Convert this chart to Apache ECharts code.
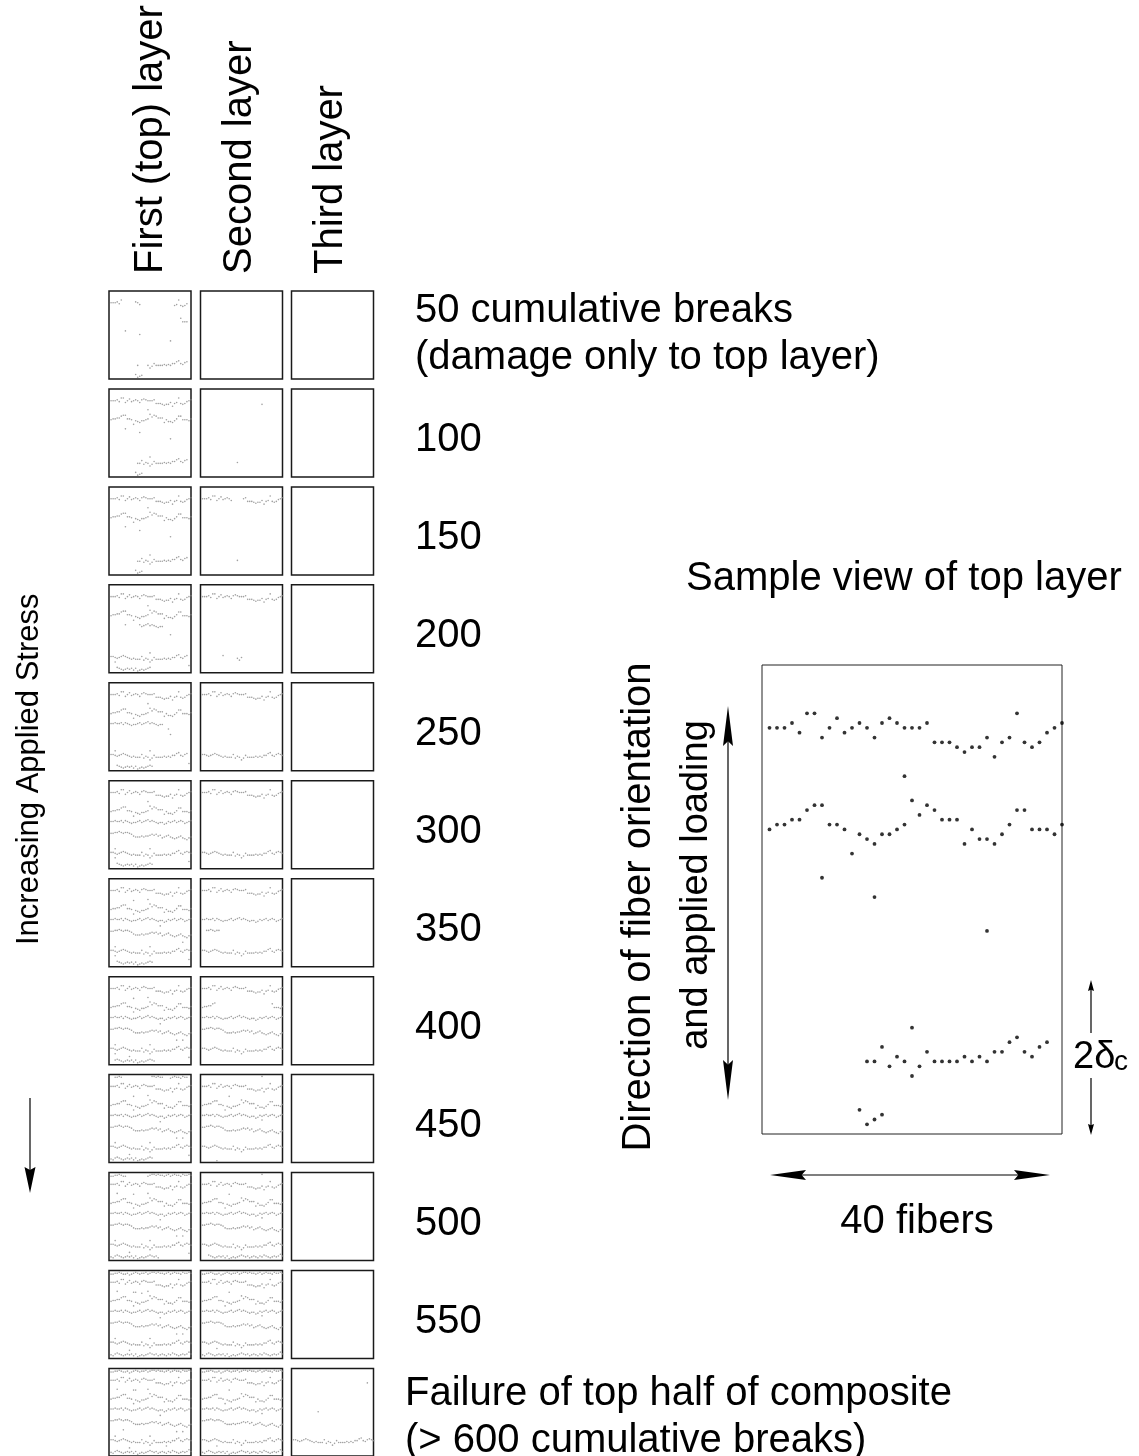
<!DOCTYPE html>
<html><head><meta charset="utf-8">
<script src="https://cdn.jsdelivr.net/npm/echarts@6/dist/echarts.min.js"></script>
<style>html,body{margin:0;padding:0;background:#fff}#c{width:1139px;height:1456px}</style>
</head><body><div id="c"></div>
<script>
// ---------- DATA ----------
const layerNames = ['First (top) layer', 'Second layer', 'Third layer'];
const stageLabels = [
  ['50 cumulative breaks', '(damage only to top layer)'],
  ['100'], ['150'], ['200'], ['250'], ['300'], ['350'], ['400'], ['450'], ['500'], ['550'],
  ['Failure of top half of composite', '(> 600 cumulative breaks)']
];
// break-plane profiles: level (position along fiber, 0 = top) for fibers 1..40
const bandA = [4,4,3,3,2,3,4,4,3,5,4,3,2,3,4,3,3,2,4,3,2,2,3,2,3,3,4,3,2,4,3,2,3,3,4,2,3,3,2,3];
const bandB = [13,13,13,12,14,10,10,15,13,11,14,13,12,13,15,12,11,12,13,13,13,12,16,16,16,17,18,17,17,15,19,16,15,10,16,17,16,14,13,12];
const bandC = [34,33,33,32,32,30,29,29,33,33,34,39,35,36,37,35,35,34,33,28,31,29,30,32,32,32,37,34,36,36,37,35,33,30,30,34,34,34,35,33];
const bandD = [45,45,44,45,45,44,46,44,45,46,47,46,46,45,44,46,45,44,43,45,44,45,46,47,46,46,48,47,45,46,45,44,46,45,44,45,47,46,45,44];
const bandE = [58,58,57,57,56,57,58,57,57,58,59,61,62,62,62,61,62,61,61,60,59,60,59,61,60,63,62,61,60,62,63,64,63,62,61,63,64,65,63,62];
const bandF = [79,79,80,81,80,79,78,79,80,81,82,81,82,82,82,79,83,81,82,85,83,80,82,82,82,82,81,82,81,82,80,80,78,77,80,81,79,78,79,80];
const bandG = [93,94,92,91,92,93,94,93,92,93,92,94,92,95,94,93,94,93,92,91,92,93,92,94,93,92,93,94,92,93,91,92,93,94,93,92,93,92,90,92];

// which fibers of each band are broken in each stage; plus isolated breaks [fiber, level]
const topLayerStages = [
  {b:[['B',1,6],['B',13,15],['B',32,38],['C',35,38],['F',14,14],['F',19,38],['G',13,16]], i:[[8,44],[15,48],[30,55]]},
  {b:[['B',1,40],['C',1,40],['F',14,38],['G',13,16]], i:[[8,44],[15,48],[30,55],[19,23],[20,75]]},
  {b:[['B',1,40],['C',1,40],['F',14,38],['G',13,16]], i:[[8,44],[15,48],[30,55],[19,23],[20,75]]},
  {b:[['B',1,40],['C',1,40],['D',15,26],['F',1,38],['G',4,20]], i:[[8,44],[30,55],[19,23],[20,75],[3,85],[39,89]]},
  {b:[['B',1,40],['C',1,40],['D',1,26],['F',1,38],['G',4,21]], i:[[29,51],[30,57],[19,23],[20,75],[3,75],[39,89]]},
  {b:[['B',1,40],['C',1,40],['D',1,40],['E',1,40],['F',1,40],['G',4,21]], i:[[19,23],[20,75],[3,75],[39,89],[3,85]]},
  {b:[['B',1,40],['C',1,40],['D',1,40],['E',1,40],['F',1,40],['G',4,21]], i:[[19,23],[20,75],[3,75],[39,89],[3,85],[12,24],[25,52],[36,70]]},
  {b:[['B',1,40],['C',1,40],['D',1,40],['E',1,40],['F',1,40],['G',3,22]], i:[[19,23],[20,75],[3,75],[39,89],[3,85],[12,24],[25,52],[36,70],[10,88],[33,70]]},
  {b:[['A',3,6],['A',21,26],['A',30,38],['B',1,40],['C',1,40],['D',1,40],['E',1,40],['F',1,40],['G',1,21]], i:[[19,23],[20,75],[3,75],[39,89],[12,24],[25,52],[36,70],[10,88],[33,70]]},
  {b:[['A',1,8],['A',19,40],['B',1,40],['C',1,40],['D',1,40],['E',1,40],['F',1,40],['G',1,24]], i:[[4,23],[19,23],[20,75],[3,75],[39,89],[12,24],[25,52],[36,70],[10,88],[33,70]]},
  {b:[['A',1,40],['B',1,40],['C',1,40],['D',1,40],['E',1,40],['F',1,40],['G',1,40]], i:[[4,23],[13,24],[16,25],[19,23],[20,75],[3,75],[12,24],[25,52],[36,70],[10,88],[33,70]]},
  {b:[['A',1,40],['B',1,40],['C',1,40],['D',1,40],['E',1,40],['F',1,40],['G',1,40]], i:[[4,23],[13,24],[19,23],[20,75],[3,75],[12,24],[25,52],[36,70],[10,88],[33,70],[7,68],[28,86]]}
];
const secondLayerStages = [
  {b:[], i:[]},
  {b:[], i:[[30,17],[18,81]]},
  {b:[['B',1,15],['B',21,40]], i:[[18,81]]},
  {b:[['B',1,40]], i:[[11,78],[18,81],[19,83],[20,80]]},
  {b:[['B',1,40],['F',1,40]], i:[]},
  {b:[['B',1,40],['F',1,40]], i:[]},
  {b:[['B',1,40],['D',1,40],['E',3,9],['F',1,40]], i:[]},
  {b:[['B',1,40],['C',1,7],['C',35,40],['D',1,40],['E',1,40],['F',1,40]], i:[]},
  {b:[['B',1,40],['C',1,40],['D',1,40],['E',1,40],['F',1,40]], i:[[8,95],[30,2],[14,24],[30,50]]},
  {b:[['B',1,40],['C',1,40],['D',1,40],['E',1,40],['F',1,40],['G',4,40]], i:[[30,2],[14,24],[30,50]]},
  {b:[['A',1,40],['B',1,40],['C',1,40],['D',1,40],['E',1,40],['F',1,40],['G',1,40]], i:[[14,24],[30,50],[8,86]]},
  {b:[['A',1,40],['B',1,40],['C',1,40],['D',1,40],['E',1,40],['F',1,40],['G',1,40]], i:[[14,24],[30,50],[8,86]]}
];
const thirdLayerStages = [
  {b:[],i:[]},{b:[],i:[]},{b:[],i:[]},{b:[],i:[]},{b:[],i:[]},{b:[],i:[]},
  {b:[],i:[]},{b:[],i:[]},{b:[],i:[]},{b:[],i:[]},{b:[],i:[]},
  {b:[['F',1,40]], i:[[37,16],[13,48]]}
];
const sampleStage = 1; // the enlarged view is the top layer at 100 breaks

// ---------- BUILD ----------
const bands = {A:bandA, B:bandB, C:bandC, D:bandD, E:bandE, F:bandF, G:bandG};
function stagePoints(st) {
  const pts = [];
  st.b.forEach(([name, f0, f1]) => {
    for (let f = f0; f <= f1; f++) pts.push([f, bands[name][f - 1]]);
  });
  st.i.forEach(p => pts.push([p[0], p[1]]));
  return pts;
}
const layers = [topLayerStages, secondLayerStages, thirdLayerStages];
const FONT = '"Liberation Sans", Arial, Helvetica, sans-serif';
const colLeft = [109, 200.5, 291.5], rowTop0 = 291, rowStep = 97.95, boxW = 82, boxH = 88;

const grid = [], xAxis = [], yAxis = [], series = [];
layers.forEach((stages, L) => {
  stages.forEach((st, r) => {
    const g = grid.length;
    grid.push({left: colLeft[L], top: rowTop0 + r * rowStep, width: boxW, height: boxH,
      show: true, borderColor: '#1a1a1a', borderWidth: 1.5, backgroundColor: '#fff'});
    xAxis.push({gridIndex: g, type: 'value', min: 0, max: 40, show: false});
    yAxis.push({gridIndex: g, type: 'value', min: 0, max: 97, inverse: true, show: false});
    series.push({type: 'scatter', xAxisIndex: g, yAxisIndex: g, data: stagePoints(st),
      symbol: 'circle', symbolSize: 1.6, itemStyle: {color: '#8a8a8a'}, silent: true});
  });
});
// enlarged sample view
const gs = grid.length;
grid.push({left: 762, top: 665, width: 300, height: 469, show: true, borderColor: '#222', borderWidth: 1, backgroundColor: '#fff'});
xAxis.push({gridIndex: gs, type: 'value', min: 0, max: 40, show: false});
yAxis.push({gridIndex: gs, type: 'value', min: 0, max: 97, inverse: true, show: false});
series.push({type: 'scatter', xAxisIndex: gs, yAxisIndex: gs, data: stagePoints(topLayerStages[sampleStage]),
  symbol: 'circle', symbolSize: 3.8, itemStyle: {color: '#000'}, silent: true});

// ---------- ANNOTATIONS ----------
const graphic = [];
function txt(text, x, y, size, opts) {
  const o = Object.assign({type: 'text', x: x, y: y, silent: true, z: 10,
    style: {text: text, font: size + 'px ' + FONT, fill: '#000',
      textAlign: 'left', align: 'left', textVerticalAlign: 'middle', verticalAlign: 'middle'}}, opts || {});
  if (opts && opts.align) { o.style.textAlign = opts.align; o.style.align = opts.align; }
  return o;
}
const colMid = [151, 240, 331];
layerNames.forEach((n, i) => graphic.push(txt(n, colMid[i], 274, 40, {rotation: Math.PI / 2})));
stageLabels.forEach((lines, r) => {
  const cy = rowTop0 + r * rowStep + boxH / 2;
  if (lines.length === 1) graphic.push(txt(lines[0], 415, cy + 7, 40));
  else {
    const x = r === 0 ? 415 : 405;
    const y0 = r === 0 ? cy - 24 : cy - 18;
    graphic.push(txt(lines[0], x, y0, 40));
    graphic.push(txt(lines[1], x, y0 + 47, 40));
  }
});
graphic.push(txt('Increasing Applied Stress', 29, 945, 31, {rotation: Math.PI / 2}));
graphic.push(txt('Sample view of top layer', 686, 579, 40));
graphic.push(txt('40 fibers', 917, 1222, 40, {align: 'center'}));
graphic.push(txt('Direction of fiber orientation', 639, 907, 40, {rotation: Math.PI / 2, align: 'center'}));
graphic.push(txt('and applied loading', 697, 885, 38, {rotation: Math.PI / 2, align: 'center'}));
graphic.push(txt('2δ', 1073, 1058, 38));
graphic.push(txt('c', 1114, 1062, 28));

function line(x1, y1, x2, y2) {
  return {type: 'line', silent: true, shape: {x1, y1, x2, y2}, style: {stroke: '#000', lineWidth: 1.2}};
}
function head(tx, ty, dx, dy, len, hw) {
  const bx = tx - dx * len, by = ty - dy * len, nx = -dy, ny = dx;
  const notch = len * 0.12;
  return {type: 'polygon', silent: true, shape: {points: [
    [tx, ty], [bx + nx * hw, by + ny * hw], [tx - dx * (len - notch), ty - dy * (len - notch)], [bx - nx * hw, by - ny * hw]]},
    style: {fill: '#000'}};
}
// stress arrow
graphic.push(line(30, 1098, 30, 1180), head(30, 1193, 0, 1, 26, 5.5));
// fiber direction arrow
graphic.push(line(728, 720, 728, 1090), head(728, 706, 0, -1, 40, 5), head(728, 1100, 0, 1, 40, 5));
// 40 fibers arrow
graphic.push(line(780, 1175, 1040, 1175), head(770, 1175, -1, 0, 36, 5), head(1050, 1175, 1, 0, 36, 5));
// 2 delta_c arrow
graphic.push(line(1091, 988, 1091, 1033), head(1091, 980, 0, -1, 11, 3));
graphic.push(line(1091, 1078, 1091, 1127), head(1091, 1135, 0, 1, 11, 3));

const chart = echarts.init(document.getElementById('c'), null, {renderer: 'canvas'});
chart.setOption({animation: false, backgroundColor: '#fff', grid, xAxis, yAxis, series, graphic});
</script>
</body></html>
